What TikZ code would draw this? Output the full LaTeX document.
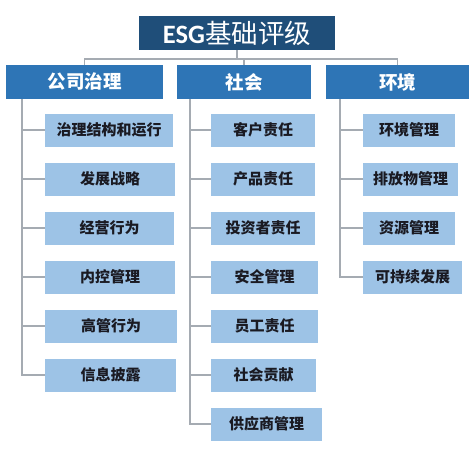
\documentclass[tikz,border=0pt]{standalone}
\usepackage{fontspec}
\newfontfamily\cjk{Noto Sans CJK SC}
\newfontfamily\carl{Carlito}
\definecolor{navy}{HTML}{1F4E79}
\definecolor{midblue}{HTML}{2E75B6}
\definecolor{lightblue}{HTML}{9DC3E6}
\definecolor{linegray}{HTML}{A5ABB2}
\definecolor{txtdark}{HTML}{1A1A22}
\begin{document}
\begin{tikzpicture}[x=1pt,y=-1pt,
  titlebox/.style={fill=navy,text=white,inner sep=0pt,minimum height=34pt,font=\fontsize{26.5}{29}\selectfont},
  headbox/.style={fill=midblue,text=white,inner sep=0pt,minimum height=34pt,font=\cjk\bfseries\fontsize{18.5}{20}\selectfont},
  itembox/.style={fill=lightblue,text=txtdark,inner sep=0pt,minimum height=33pt,font=\cjk\bfseries\fontsize{15}{17}\selectfont},
  conn/.style={draw=linegray,line width=1.3pt}]
\useasboundingbox (0,0) rectangle (474,467);
\fill[white] (0,0) rectangle (474,467);
% title
\node[titlebox,minimum width=196pt] (top) at (237,33) {{\carl\bfseries ESG}{\cjk 基础评级}};
% headers
\node[headbox,minimum width=157pt] (h1) at (84.5,82) {公司治理};
\node[headbox,minimum width=134pt] (h2) at (244,82) {社会};
\node[headbox,minimum width=143pt] (h3) at (397.5,82) {环境};
% column 1 items
\node[itembox,anchor=west,minimum width=128pt] (a1) at (45,130) {治理结构和运行};
\node[itembox,anchor=west,minimum width=130pt] (a2) at (45,179) {发展战略};
\node[itembox,anchor=west,minimum width=129pt] (a3) at (45,228) {经营行为};
\node[itembox,anchor=west,minimum width=130pt] (a4) at (45,277) {内控管理};
\node[itembox,anchor=west,minimum width=132pt] (a5) at (45,326) {高管行为};
\node[itembox,anchor=west,minimum width=131pt] (a6) at (45,375) {信息披露};
% column 2 items
\node[itembox,anchor=west,minimum width=104pt] (b1) at (211,130) {客户责任};
\node[itembox,anchor=west,minimum width=104pt] (b2) at (211,179) {产品责任};
\node[itembox,anchor=west,minimum width=104pt] (b3) at (211,228) {投资者责任};
\node[itembox,anchor=west,minimum width=107pt] (b4) at (211,277) {安全管理};
\node[itembox,anchor=west,minimum width=107pt] (b5) at (211,326) {员工责任};
\node[itembox,anchor=west,minimum width=105pt] (b6) at (211,375) {社会贡献};
\node[itembox,anchor=west,minimum width=111pt] (b7) at (211,424) {供应商管理};
% column 3 items
\node[itembox,anchor=west,minimum width=92pt] (c1) at (363,130) {环境管理};
\node[itembox,anchor=west,minimum width=95pt] (c2) at (363,179) {排放物管理};
\node[itembox,anchor=west,minimum width=92pt] (c3) at (363,228) {资源管理};
\node[itembox,anchor=west,minimum width=99pt] (c4) at (363,277) {可持续发展};
% top connectors
\coordinate (bar) at (237,59);
\draw[conn] (top.south) -- (bar);
\draw[conn] (h1.north) |- (bar) -| (h3.north);
\draw[conn] (bar) -| (h2.north);
% spines
\coordinate (s1) at (22,99);
\coordinate (s2) at (190,99);
\coordinate (s3) at (340,99);
\foreach \n in {a1,a2,a3,a4,a5,a6}{\draw[conn] (s1) |- (\n.west);}
\foreach \n in {b1,b2,b3,b4,b5,b6,b7}{\draw[conn] (s2) |- (\n.west);}
\foreach \n in {c1,c2,c3,c4}{\draw[conn] (s3) |- (\n.west);}
\end{tikzpicture}
\end{document}
